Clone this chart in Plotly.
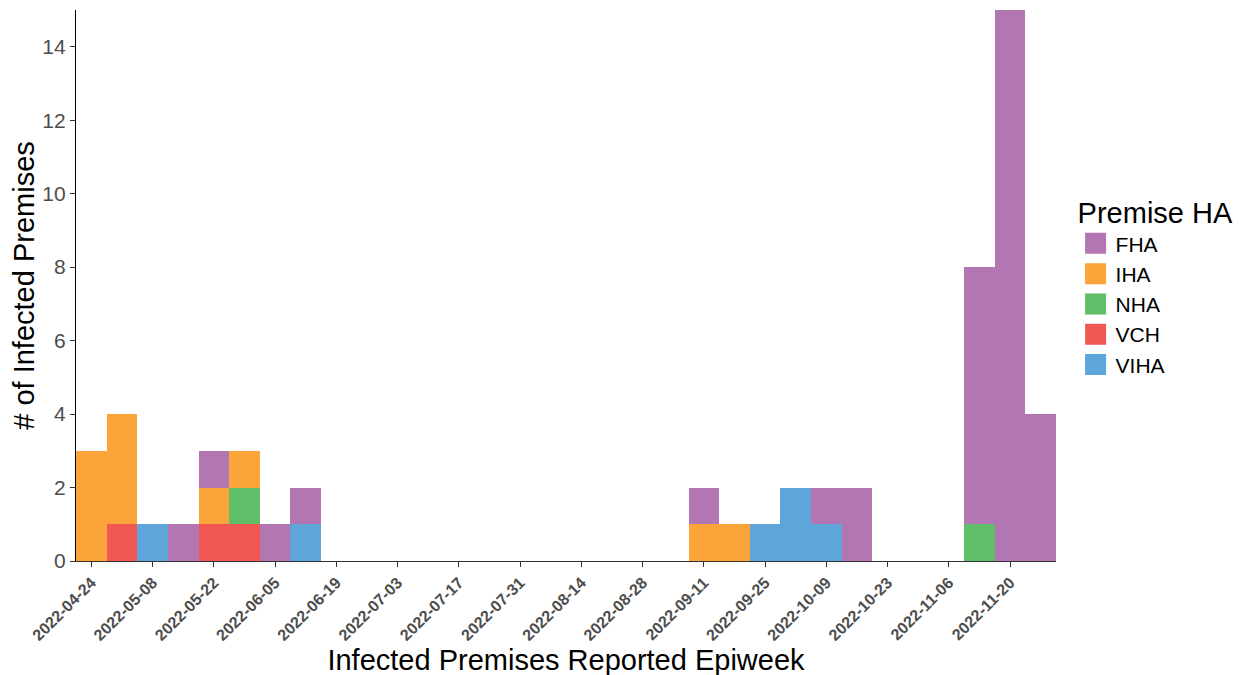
import plotly.graph_objects as go
import pandas as pd

weeks = ["2022-04-24", "2022-05-01", "2022-05-08", "2022-05-15", "2022-05-22", "2022-05-29",
         "2022-06-05", "2022-06-12", "2022-06-19", "2022-06-26", "2022-07-03", "2022-07-10",
         "2022-07-17", "2022-07-24", "2022-07-31", "2022-08-07", "2022-08-14", "2022-08-21",
         "2022-08-28", "2022-09-04", "2022-09-11", "2022-09-18", "2022-09-25", "2022-10-02",
         "2022-10-09", "2022-10-16", "2022-10-23", "2022-10-30", "2022-11-06", "2022-11-13",
         "2022-11-20", "2022-11-27"]

FHA  = [0, 0, 0, 1, 1, 0, 1, 1, 0, 0, 0, 0, 0, 0, 0, 0, 0, 0, 0, 0, 1, 0, 0, 0, 1, 2, 0, 0, 0, 7, 15, 4]
IHA  = [3, 3, 0, 0, 1, 1, 0, 0, 0, 0, 0, 0, 0, 0, 0, 0, 0, 0, 0, 0, 1, 1, 0, 0, 0, 0, 0, 0, 0, 0, 0, 0]
NHA  = [0, 0, 0, 0, 0, 1, 0, 0, 0, 0, 0, 0, 0, 0, 0, 0, 0, 0, 0, 0, 0, 0, 0, 0, 0, 0, 0, 0, 0, 1, 0, 0]
VCH  = [0, 1, 0, 0, 1, 1, 0, 0, 0, 0, 0, 0, 0, 0, 0, 0, 0, 0, 0, 0, 0, 0, 0, 0, 0, 0, 0, 0, 0, 0, 0, 0]
VIHA = [0, 0, 1, 0, 0, 0, 0, 1, 0, 0, 0, 0, 0, 0, 0, 0, 0, 0, 0, 0, 0, 0, 1, 2, 1, 0, 0, 0, 0, 0, 0, 0]

tick_dates = ["2022-04-24", "2022-05-08", "2022-05-22", "2022-06-05", "2022-06-19", "2022-07-03",
              "2022-07-17", "2022-07-31", "2022-08-14", "2022-08-28", "2022-09-11", "2022-09-25",
              "2022-10-09", "2022-10-23", "2022-11-06", "2022-11-20"]

series = [("VIHA", VIHA, "#5DA5DA"), ("VCH", VCH, "#F15854"), ("NHA", NHA, "#60BD68"),
          ("IHA", IHA, "#FAA43A"), ("FHA", FHA, "#B276B2")]

FONT = "Liberation Sans, Arial, sans-serif"
week_ms = 7 * 24 * 3600 * 1000
fig = go.Figure()
for name, vals, col in series:
    fig.add_trace(go.Bar(x=weeks, y=vals, name=name, legendgroup=name, showlegend=False,
                         marker=dict(color=col, line=dict(width=0)),
                         width=[week_ms] * len(weeks)))
# legend keys (large squares like ggplot)
for name, vals, col in series:
    fig.add_trace(go.Scatter(x=[None], y=[None], mode="markers", name=name, legendgroup=name,
                             marker=dict(symbol="square", size=16, color=col,
                                         line=dict(color=col, width=5))))

x0 = pd.Timestamp(weeks[0]) - pd.Timedelta(hours=84)
x1 = pd.Timestamp(weeks[-1]) + pd.Timedelta(hours=84)

fig.update_layout(
    barmode="stack", bargap=0,
    width=1245, height=675,
    margin=dict(l=68, r=197, t=2, b=122),
    plot_bgcolor="white", paper_bgcolor="white",
    font=dict(family=FONT, color="#000000"),
    legend=dict(title=dict(text="Premise HA", font=dict(size=29)), traceorder="reversed",
                font=dict(size=21), x=1.02, xanchor="left", y=0.5, yanchor="middle",
                itemsizing="trace", tracegroupgap=0),
    xaxis=dict(type="date", range=[x0, x1], tickvals=tick_dates, ticktext=tick_dates,
               tickangle=-45, tickfont=dict(size=16, color="#4d4d4d", family=FONT, weight="bold"),
               ticks="outside", ticklen=5, tickcolor="#333333", showline=True, linecolor="#333333",
               linewidth=1.2, showgrid=False, zeroline=False,
               title=dict(text="Infected Premises Reported Epiweek", font=dict(size=29), standoff=4)),
    yaxis=dict(range=[0, 15], tickvals=[0, 2, 4, 6, 8, 10, 12, 14],
               tickfont=dict(size=21, color="#4d4d4d", family=FONT),
               ticks="outside", ticklen=5, tickcolor="#333333", showline=True, linecolor="#000000",
               linewidth=1.2, showgrid=False, zeroline=False,
               title=dict(text="# of Infected Premises", font=dict(size=29), standoff=6)),
)

fig.write_html("out.html")
